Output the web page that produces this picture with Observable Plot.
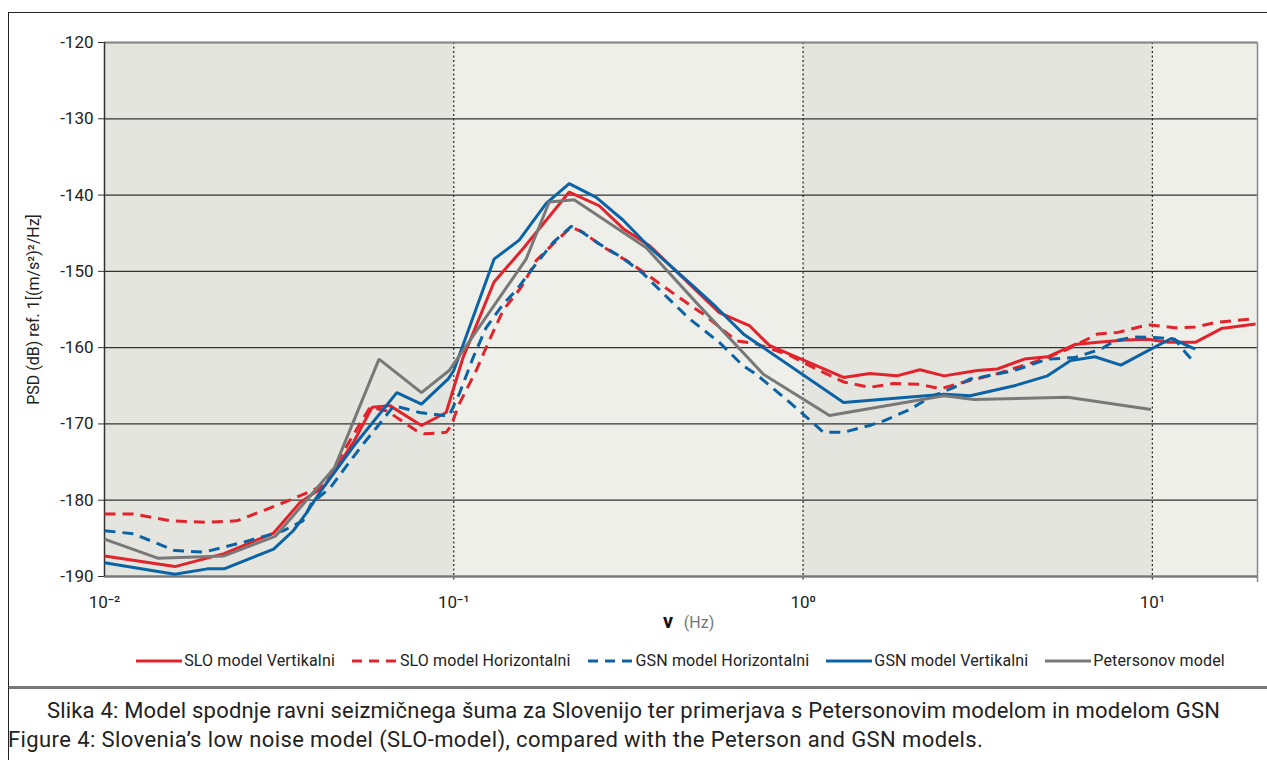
<!DOCTYPE html>
<html><head><meta charset="utf-8">
<script src="https://cdn.jsdelivr.net/npm/d3@7"></script>
<script src="https://cdn.jsdelivr.net/npm/@observablehq/plot@0.6"></script>
<style>
body{margin:0;background:#fff;font-family:Roboto,"Liberation Sans",sans-serif;}
#wrap{position:relative;width:1267px;height:760px;overflow:hidden;}
#frame{position:absolute;left:8px;top:12px;width:1300px;height:673px;border:1.5px solid #222;border-bottom:3px solid #777;}
#leftline{position:absolute;left:8px;top:688px;height:80px;border-left:1.5px solid #222;}
#chart{position:absolute;left:0;top:0;}
#legend{position:absolute;top:651px;left:104px;width:1153px;display:flex;justify-content:center;align-items:center;gap:17px;font-size:16px;letter-spacing:0.15px;color:#222;}
#legend .it{display:flex;align-items:center;gap:2px;}
#cap1{position:absolute;top:698px;left:0;width:1267px;text-align:center;font-size:22px;letter-spacing:0.2px;color:#222;}
#cap2{position:absolute;top:727px;left:8px;font-size:22px;letter-spacing:0.4px;color:#222;}
</style></head>
<body><div id="wrap">
<div id="frame"></div><div id="leftline"></div>
<div id="chart"></div>
<div id="legend"></div>
<div id="cap1">Slika 4: Model spodnje ravni seizmičnega šuma za Slovenijo ter primerjava s Petersonovim modelom in modelom GSN</div>
<div id="cap2">Figure 4: Slovenia’s low noise model (SLO-model), compared with the Peterson and GSN models.</div>
</div>
<script>
// ---- data (frequency in Hz, PSD in dB) ----
const sloVFreq = [0.01,0.0159,0.022,0.0305,0.0363,0.0427,0.0519,0.0584,0.0656,0.0808,0.0951,0.1063,0.1304,0.158,0.214,0.2608,0.3056,0.3627,0.5755,0.7017,0.8007,1.306,1.551,1.855,2.161,2.533,3.152,3.598,4.303,5.011,5.992,6.979,8.346,9.719,11.1,13.27,15.76,19.75];
const sloVPsd  = [-187.3,-188.7,-187.0,-184.3,-180.3,-178.1,-172.2,-167.8,-167.6,-170.2,-168.5,-161.3,-151.4,-147.0,-139.6,-141.4,-144.4,-146.6,-155.4,-157.1,-159.7,-163.9,-163.4,-163.7,-162.9,-163.7,-163.0,-162.8,-161.5,-161.2,-159.6,-159.3,-159.0,-158.9,-159.3,-159.3,-157.5,-156.9];

const sloHFreq = [0.01,0.0121,0.0155,0.0197,0.0239,0.0291,0.0347,0.0422,0.0576,0.0644,0.0782,0.0824,0.0951,0.0983,0.1036,0.1159,0.1262,0.1384,0.1559,0.1721,0.1926,0.2168,0.2347,0.2678,0.3179,0.3723,0.4539,0.518,0.644,0.7349,0.9135,1.092,1.306,1.551,1.819,2.161,2.467,2.951,3.598,4.303,5.011,5.72,6.979,7.966,9.719,11.62,13.27,15.15,19.75];
const sloHPsd  = [-181.8,-181.8,-182.7,-182.9,-182.7,-181.2,-179.8,-178.1,-167.8,-168.3,-170.9,-171.3,-171.1,-170.2,-167.4,-163.0,-159.1,-155.1,-152.1,-148.6,-146.4,-144.2,-144.9,-146.8,-148.8,-151.0,-153.8,-155.6,-159.1,-159.5,-161.0,-162.8,-164.5,-165.2,-164.7,-164.8,-165.4,-164.4,-163.4,-162.3,-161.3,-160.2,-158.2,-158.0,-157.0,-157.4,-157.3,-156.7,-156.2];

const gsnHFreq = [0.01,0.0121,0.0159,0.0193,0.025,0.0325,0.037,0.039,0.0444,0.054,0.0603,0.0674,0.0798,0.0933,0.097,0.1036,0.1136,0.1237,0.1384,0.1508,0.1721,0.1926,0.2168,0.2286,0.2608,0.3056,0.3487,0.3979,0.4723,0.5755,0.6744,0.7349,0.8957,1.0,1.144,1.306,1.551,1.702,2.022,2.309,2.706,3.01,3.215,4.027,5.011,5.992,7.119,7.81,8.917,10.38,11.62,12.09,13.27];
const gsnHPsd  = [-184.0,-184.4,-186.6,-186.8,-185.5,-184.0,-182.7,-180.5,-178.3,-173.1,-170.4,-167.6,-168.5,-168.9,-168.9,-166.1,-161.3,-157.4,-154.3,-152.5,-149.0,-146.2,-144.1,-144.6,-146.4,-148.3,-150.3,-152.9,-156.2,-159.3,-162.4,-163.5,-166.8,-168.7,-171.1,-171.1,-170.2,-169.6,-168.1,-166.5,-165.2,-164.1,-163.9,-163.0,-161.5,-161.3,-160.2,-159.1,-158.6,-158.7,-158.9,-160.0,-162.1];

const gsnVFreq = [0.01,0.0159,0.0197,0.022,0.0305,0.0347,0.0377,0.0416,0.0519,0.0687,0.0808,0.0964,0.1,0.1304,0.1539,0.1839,0.214,0.2557,0.3056,0.3627,0.4947,0.5643,0.6744,1.306,2.533,3.01,4.027,5.011,5.835,6.842,8.128,9.719,11.32,13.27];
const gsnVPsd  = [-188.2,-189.7,-189.0,-189.0,-186.4,-184.0,-181.8,-178.8,-172.8,-165.9,-167.4,-164.1,-163.0,-148.4,-145.9,-141.1,-138.5,-140.3,-143.3,-146.8,-152.3,-154.7,-158.2,-167.2,-166.1,-166.3,-165.0,-163.7,-161.7,-161.2,-162.3,-160.4,-158.8,-160.2];

const petFreq = [0.01,0.0142,0.022,0.0309,0.0456,0.0611,0.0808,0.097,0.1611,0.1876,0.2211,0.3556,0.4947,0.7696,1.19,2.533,3.09,5.72,9.915];
const petPsd  = [-185.1,-187.6,-187.3,-184.7,-175.7,-161.5,-165.9,-163.0,-148.4,-140.9,-140.6,-146.9,-154.1,-163.5,-168.9,-166.3,-166.8,-166.5,-168.1];

const seriesNames = ["SLO model Vertikalni","SLO model Horizontalni","GSN model Horizontalni","GSN model Vertikalni","Petersonov model"];
const xTicks = [0.01, 0.1, 1, 10];
const xTickLabels = ["10⁻²","10⁻¹","10⁰","10¹"];
const yTicks = [-190,-180,-170,-160,-150,-140,-130,-120];
const darkBandStart = [0.01, 1];
const darkBandEnd = [0.1, 10];
const xLabel = "ν";
const xUnit = "(Hz)";
const yLabel = "PSD (dB) ref. 1[(m/s²)²/Hz]";

// ---- styling ----
const RED = "#e3232c", BLUE = "#0b63a5", GREY = "#787878";
const styles = [
  {stroke: RED, dash: null},
  {stroke: RED, dash: "11,7"},
  {stroke: BLUE, dash: "11,7"},
  {stroke: BLUE, dash: null},
  {stroke: GREY, dash: null}
];
const sets = [[sloVFreq,sloVPsd],[sloHFreq,sloHPsd],[gsnHFreq,gsnHPsd],[gsnVFreq,gsnVPsd],[petFreq,petPsd]];
const rows = sets.map(([f,p]) => f.map((v,i) => ({f:v, db:p[i]})));
const bands = darkBandStart.map((s,i) => ({s, e: darkBandEnd[i]}));

const lineMarks = rows.map((r,i) => Plot.line(r, {x:"f", y:"db", stroke: styles[i].stroke, strokeWidth: 3, strokeDasharray: styles[i].dash ?? undefined, strokeLinejoin:"miter", strokeLinecap:"butt"}));

const chart = Plot.plot({
  width: 1267, height: 640,
  marginLeft: 104, marginRight: 10, marginTop: 42, marginBottom: 64,
  x: {type: "log", domain: [0.01, 20]},
  y: {domain: [-190, -120]},
  style: {fontFamily: "Roboto, 'Liberation Sans', sans-serif", fontSize: "17px", color: "#222", background: "transparent", overflow: "visible"},
  marks: [
    Plot.frame({fill: "#efefea", stroke: "none"}),
    Plot.rect(bands, {x1: "s", x2: "e", fill: "#e5e5df"}),
    Plot.gridY(yTicks, {stroke: "#333", strokeOpacity: 1, strokeWidth: 1.3}),
    Plot.ruleX(xTicks.slice(1), {stroke: "#222", strokeWidth: 1.2, strokeDasharray: "2,2.5", insetBottom: -6}),
    Plot.ruleX([20], {stroke: "#888", strokeWidth: 1.5, insetBottom: -6}),
    Plot.ruleY([-120], {stroke: "#888", strokeWidth: 1.5}),
    Plot.ruleY([-190], {stroke: "#777", strokeWidth: 2.2}),
    Plot.ruleX([0.01], {stroke: "#333", strokeWidth: 1.5}),
    Plot.axisY({ticks: yTicks, tickSize: 6, tickPadding: 5, label: null, stroke: "#333", tickFormat: d => String(d)}),
    Plot.axisX({ticks: xTicks, tickSize: 0, tickPadding: 19, label: null, tickFormat: d => xTickLabels[xTicks.indexOf(d)]}),
    ...lineMarks,
    Plot.text([yLabel], {frameAnchor: "left", dx: -71, rotate: -90, textAnchor: "middle", fontSize: 16, fill: "#222"}),
    Plot.text([xLabel], {frameAnchor: "bottom", dy: 51, dx: -13, fontSize: 20, fontWeight: "bold", fill: "#111"}),
    Plot.text([xUnit], {frameAnchor: "bottom", dy: 51, dx: 18, fontSize: 16, fill: "#777"})
  ]
});
document.getElementById("chart").appendChild(chart);

// ---- legend ----
const leg = document.getElementById("legend");
seriesNames.forEach((name, i) => {
  const it = document.createElement("div");
  it.className = "it";
  const dash = styles[i].dash ? `stroke-dasharray="10,7"` : "";
  it.innerHTML = `<svg width="46" height="10"><line x1="0" y1="5" x2="46" y2="5" stroke="${styles[i].stroke}" stroke-width="3" ${dash}/></svg><span>${name}</span>`;
  leg.appendChild(it);
});
</script>
</body></html>
